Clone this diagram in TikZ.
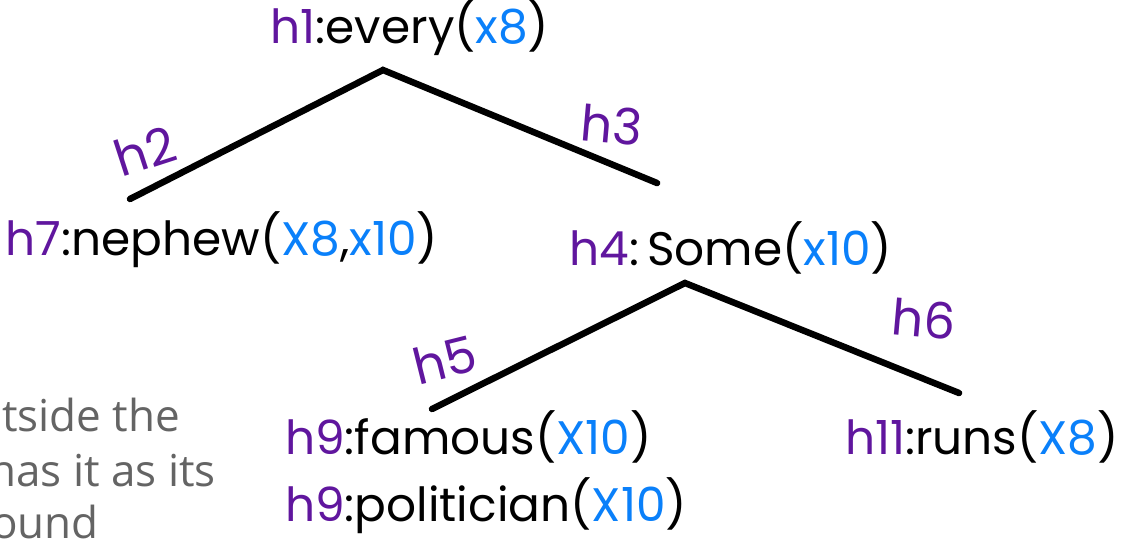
\documentclass[tikz,border=0pt]{standalone}
\usepackage{fontspec}
\usepackage{xcolor}
\setmainfont{Poppins}
\newfontfamily\notefont{Open Sans}
\usetikzlibrary{positioning}

\definecolor{hpurple}{RGB}{96,22,158}
\definecolor{xblue}{RGB}{10,128,250}
\definecolor{notegray}{RGB}{100,100,100}
\newcommand{\hv}[1]{\textcolor{hpurple}{#1}}
\newcommand{\xv}[1]{\textcolor{xblue}{#1}}

\begin{document}
\begin{tikzpicture}[
    x=1pt,y=-1pt,
    label/.style={inner sep=0pt,font=\fontsize{47}{50}\selectfont},
    hole/.style={inner sep=0pt,text=hpurple,font=\fontsize{50}{54}\selectfont},
    branch/.style={line width=6.5pt,line cap=round,line join=miter},
    note/.style={inner sep=0pt,anchor=base west,text=notegray,
                 font=\notefont\fontsize{44}{50}\selectfont}
]
\clip (0,0) rectangle (1125,549);
\fill[white] (0,0) rectangle (1125,549);

% gray text cut off at the left edge
\node[note] (n1) at (2,431) {tside the};
\node[note] (n2) at (-11,486) {has it as its};
\node[note] (n3) at (-9,538) {ound};

% upper tree
\node[label] (every) at (410,28) {\hv{h1}:every(\xv{x8})};
\coordinate (top1) at (383,70);
\coordinate (end2) at (130,199);
\coordinate (end3) at (657,183);
\draw[branch] (end2) -- (top1) -- (end3);
\node[hole,rotate=18] (h2) at (145,151) {h2};
\node[hole,rotate=-5] (h3) at (612,125) {h3};
\node[label] (nephew) at (222,240) {\hv{h7}:nephew(\xv{X8},\xv{x10})};

% lower tree
\node[label] (some) at (731,248) {\hv{h4}:\,Some(\xv{x10})};
\coordinate (top4) at (685,283);
\coordinate (end5) at (432,409);
\coordinate (end6) at (959,393);
\draw[branch] (end5) -- (top4) -- (end6);
\node[hole,rotate=14] (h5) at (445,360) {h5};
\node[hole,rotate=-5] (h6) at (924,319) {h6};
\node[label,anchor=west] (famous) at (285,437) {\hv{h9}:famous(\xv{X10})};
\node[label,anchor=west] (politician) at (285,506) {\hv{h9}:politician(\xv{X10})};
\node[label] (runs) at (982,437) {\hv{h11}:runs(\xv{X8})};
\end{tikzpicture}
\end{document}
